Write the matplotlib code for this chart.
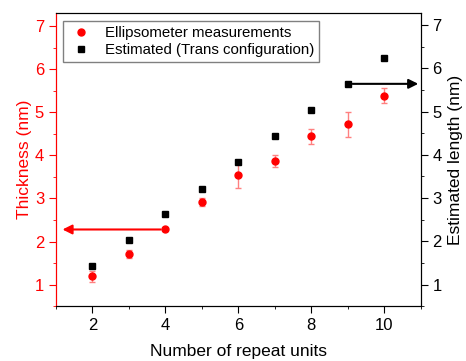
import matplotlib.pyplot as plt
from matplotlib.ticker import MultipleLocator

plt.rcParams['font.family'] = ['Liberation Sans', 'DejaVu Sans']

# Data
repeat_units = [2, 3, 4, 5, 6, 7, 8, 9, 10]
thickness = [1.19, 1.71, 2.28, 2.92, 3.55, 3.86, 4.44, 4.72, 5.39]
thickness_err = [0.12, 0.09, 0.03, 0.10, 0.30, 0.14, 0.18, 0.29, 0.18]
est_length = [1.42, 2.02, 2.62, 3.22, 3.83, 4.43, 5.04, 5.64, 6.24]

fig = plt.figure(figsize=(4.66, 3.61), dpi=100)
ax1 = fig.add_axes([0.120, 0.152, 0.783, 0.811])
ax2 = ax1.twinx()

red = '#ff0000'

ax1.errorbar(repeat_units, thickness, yerr=thickness_err, fmt='none',
             ecolor='#ff8080', elinewidth=1, capsize=2.5, capthick=1, zorder=2)
ax1.plot(repeat_units, thickness, 'o', color=red, markersize=5,
         label='Ellipsometer measurements', zorder=3)
ax2.plot(repeat_units, est_length, 's', color='black', markersize=4.2,
         label='Estimated (Trans configuration)', zorder=3)

# arrows pointing to the matching axis
ax1.annotate('', xy=(1.18, thickness[2]), xytext=(3.87, thickness[2]),
             arrowprops=dict(arrowstyle='-|>', color=red, lw=1.5,
                             mutation_scale=14, shrinkA=0, shrinkB=0))
ax2.annotate('', xy=(10.93, est_length[7]), xytext=(9.13, est_length[7]),
             arrowprops=dict(arrowstyle='-|>', color='black', lw=1.5,
                             mutation_scale=14, shrinkA=0, shrinkB=0))

ax1.set_xlim(1, 11)
ax1.set_ylim(0.5, 7.3)
ax2.set_ylim(0.5, 7.27)

ax1.xaxis.set_major_locator(MultipleLocator(2))
ax1.xaxis.set_minor_locator(MultipleLocator(1))
for ax in (ax1, ax2):
    ax.yaxis.set_major_locator(MultipleLocator(1))
    ax.yaxis.set_minor_locator(MultipleLocator(0.5))
    ax.tick_params(which='major', direction='out', length=5, labelsize=12)
    ax.tick_params(which='minor', direction='out', length=2.5)

ax1.tick_params(axis='y', which='both', colors=red)
ax1.spines['left'].set_color(red)
ax2.spines['left'].set_color(red)
ax1.set_ylabel('Thickness (nm)', color=red, fontsize=12.5, labelpad=2)
ax2.set_ylabel('Estimated length (nm)', fontsize=12.5, labelpad=4)
ax1.set_xlabel('Number of repeat units', fontsize=12.5, labelpad=8)

h1, l1 = ax1.get_legend_handles_labels()
h2, l2 = ax2.get_legend_handles_labels()
leg = ax1.legend(h1 + h2, l1 + l2, loc='upper left', fontsize=10.8,
                 fancybox=False, edgecolor='gray', framealpha=1,
                 handletextpad=0.8, borderaxespad=0.5, handlelength=1.6,
                 labelspacing=0.2, borderpad=0.35)
leg.set_zorder(5)

fig.savefig('out.png', dpi=100)
